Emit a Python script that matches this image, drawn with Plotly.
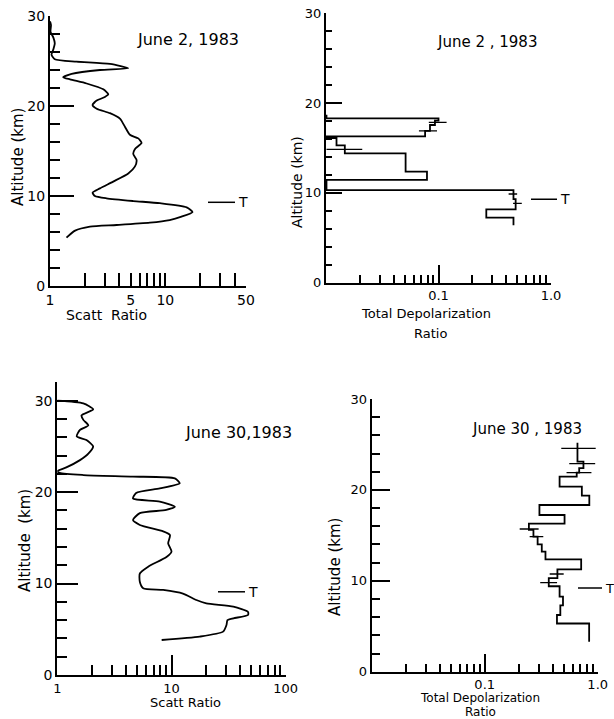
import math
import plotly.graph_objects as go

# ---------------- data ----------------
# Panel 1: June 2, 1983 scattering ratio profile
scatt1_alt = [5.37, 6.15, 6.6, 6.78, 7.04, 7.33, 7.7, 8.2, 8.74, 9.2, 9.44, 9.74, 10.0, 10.37,
              10.85, 11.6, 12.5, 13.26, 14.0, 14.67, 15.2, 15.9, 16.4, 16.8, 17.7, 18.6, 19.2,
              19.7, 20.1, 20.6, 21.0, 21.3, 21.85, 22.5, 22.96, 23.2, 23.56, 24.0, 24.2, 24.67,
              24.93, 25.2, 25.7, 26.3, 26.96, 27.6, 28.26, 29.0, 29.4]
scatt1_val = [1.39, 1.65, 2.22, 3.78, 7.34, 10.9, 13.8, 17.2, 15.3, 8.96, 5.27, 3.09, 2.45, 2.34,
              2.71, 3.53, 4.77, 5.44, 5.63, 5.27, 5.44, 6.22, 5.82, 4.93, 4.46, 4.04, 3.31,
              2.54, 2.34, 2.54, 2.99, 3.2, 2.9, 2.08, 1.49, 1.30, 1.54, 2.71, 4.77, 3.31,
              1.70, 1.10, 1.03, 1.07, 1.10, 1.07, 1.01, 1.02, 1.0]

# Panel 2: June 2, 1983 total depolarization ratio (step profile)
dep1_edges = [6.4, 7.24, 8.17, 9.3, 10.3, 11.44, 12.36, 14.4, 15.3, 16.1, 16.3, 16.9, 17.56,
              18.04, 18.3, 18.7]
dep1_vals = [0.464, 0.266, 0.485, 0.464, 0.0101, 0.079, 0.051, 0.0147, 0.0124, 0.0101, 0.076,
             0.084, 0.093, 0.1, 0.0101]
dep1_err_alt = [17.86, 16.9, 14.85, 9.88, 8.84]
dep1_err_lo = [0.082, 0.067, 0.0101, 0.42, 0.46]
dep1_err_hi = [0.118, 0.097, 0.021, 0.50, 0.55]

# Panel 3: June 30, 1983 scattering ratio profile
scatt2_alt = [3.83, 4.2, 4.74, 5.47, 6.0, 6.2, 6.56, 6.9, 7.47, 7.84, 8.2, 8.9, 9.3, 9.5, 10.2,
              11.1, 11.85, 12.9, 13.5, 14.4, 15.3, 15.7, 16.4, 16.95, 17.7, 18.05, 18.4, 18.96,
              19.3, 19.9, 20.4, 20.96, 21.5, 21.7, 21.87, 22.1, 22.3, 22.7, 23.5, 24.2, 25.0,
              25.7, 26.1, 26.8, 27.3, 27.9, 28.4, 29.05, 29.7, 30.0]
scatt2_val = [8.2, 17.7, 28.3, 30.3, 30.9, 34.8, 46.8, 46.8, 34.8, 20.2, 16.5, 12.6, 8.45, 5.65,
              5.28, 5.28, 6.25, 9.04, 10.0, 9.35, 9.7, 8.45, 5.28, 4.6, 5.28, 9.0, 10.7, 7.9,
              4.6, 4.9, 7.9, 11.8, 10.7, 4.6, 1.69, 1.05, 1.0, 1.2, 1.58, 1.87, 2.06,
              1.80, 1.48, 1.58, 1.87, 1.69, 1.63, 2.06, 1.69, 1.0]

# Panel 4: June 30, 1983 total depolarization ratio (step profile)
dep2_edges = [3.3, 5.3, 6.24, 7.3, 8.25, 9.4, 10.3, 11.26, 12.36, 13.2, 14.0, 14.85, 15.6, 16.3,
              17.24, 18.34, 19.36, 20.35, 21.45, 21.9, 22.4, 23.1, 25.2]
dep2_vals = [0.84, 0.436, 0.467, 0.493, 0.46, 0.369, 0.44, 0.714, 0.345, 0.32, 0.294, 0.27,
             0.246, 0.509, 0.305, 0.843, 0.724, 0.46, 0.652, 0.686, 0.748, 0.662]
dep2_err_alt = [24.57, 22.9, 21.9, 15.7, 14.85, 10.75, 9.8]
dep2_err_lo = [0.476, 0.56, 0.53, 0.204, 0.25, 0.376, 0.31]
dep2_err_hi = [0.96, 0.95, 0.88, 0.30, 0.33, 0.50, 0.437]

# Tropopause heights (km) for the four panels
tropo_alt = [9.3, 9.3, 9.1, 9.2]

# Tick labels
y_tickvals = [0, 10, 20, 30]
x1_tickvals = [1, 2, 3, 4, 5, 6, 7, 8, 9, 10, 20, 30, 40, 50]
x1_ticktext = ['1', '', '', '', '5', '', '', '', '', '10', '', '', '', '50']
x3_major = [1, 10, 100]
x3_major_text = ['1', '10', '100']
x3_minor = [2, 3, 4, 5, 6, 7, 8, 9, 20, 30, 40, 50, 60, 70, 80, 90]
dep_major = [0.1, 1.0]
dep_major_text = ['0.1', '1.0']
dep_minor = [0.02, 0.03, 0.04, 0.05, 0.06, 0.07, 0.08, 0.09, 0.2, 0.3, 0.4, 0.5, 0.6, 0.7, 0.8, 0.9]

titles = ['June 2, 1983', 'June 2 , 1983', 'June 30,1983', 'June 30 , 1983']

# ---------------- helpers ----------------
W, H = 614, 719
FONT = 'DejaVu Sans'


def px(x):
    return x / W


def py(y):
    return 1 - y / H


def steps(edges, vals):
    xs, ys = [], []
    for i, v in enumerate(vals):
        xs += [v, v]
        ys += [edges[i], edges[i + 1]]
    return xs, ys


def bars(alts, lo, hi):
    xs, ys = [], []
    for a, l, h in zip(alts, lo, hi):
        xs += [l, h, None]
        ys += [a, a, None]
    return xs, ys


LINE = dict(color='black', width=1.8)

fig = go.Figure()
fig.add_trace(go.Scatter(x=scatt1_val, y=scatt1_alt, mode='lines',
                         line=dict(color='black', width=1.8, shape='spline', smoothing=0.6),
                         xaxis='x', yaxis='y'))
sx, sy = steps(dep1_edges, dep1_vals)
fig.add_trace(go.Scatter(x=sx, y=sy, mode='lines', line=LINE, xaxis='x2', yaxis='y2'))
bx, by = bars(dep1_err_alt, dep1_err_lo, dep1_err_hi)
fig.add_trace(go.Scatter(x=bx, y=by, mode='lines', line=dict(color='black', width=1.3),
                         xaxis='x2', yaxis='y2'))
fig.add_trace(go.Scatter(x=scatt2_val, y=scatt2_alt, mode='lines',
                         line=dict(color='black', width=1.8, shape='spline', smoothing=0.6),
                         xaxis='x3', yaxis='y3'))
sx, sy = steps(dep2_edges, dep2_vals)
fig.add_trace(go.Scatter(x=sx, y=sy, mode='lines', line=LINE, xaxis='x4', yaxis='y4'))
bx, by = bars(dep2_err_alt, dep2_err_lo, dep2_err_hi)
fig.add_trace(go.Scatter(x=bx, y=by, mode='lines', line=dict(color='black', width=1.3),
                         xaxis='x4', yaxis='y4'))


def xaxis(dom, anchor, rng, tickvals, ticktext, ticklen, minor_vals=None, minor_len=8, fs=13):
    d = dict(domain=dom, anchor=anchor, type='log', range=rng, showline=True, linecolor='black',
             linewidth=2, ticks='inside', tickcolor='black', tickwidth=1.5, ticklen=ticklen,
             tickmode='array', tickvals=tickvals, ticktext=ticktext, showgrid=False,
             zeroline=False, tickfont=dict(family=FONT, size=fs, color='black'),
             fixedrange=True, automargin=False)
    if minor_vals is not None:
        d['minor'] = dict(tickmode='array', tickvals=minor_vals, ticks='inside', ticklen=minor_len,
                          tickcolor='black', tickwidth=1.5, showgrid=False)
    return d


def yaxis(dom, anchor, rng, major_len, minor_len, fs=13):
    return dict(domain=dom, anchor=anchor, range=rng, showline=True, linecolor='black',
                linewidth=2, ticks='inside', tickcolor='black', tickwidth=1.5, ticklen=major_len,
                tickmode='array', tickvals=y_tickvals, ticktext=[str(v) for v in y_tickvals],
                minor=dict(dtick=2, tick0=0, ticks='inside', ticklen=minor_len,
                           tickcolor='black', tickwidth=1.5, showgrid=False),
                showgrid=False, zeroline=False, tickfont=dict(family=FONT, size=fs, color='black'),
                fixedrange=True, automargin=False)


fig.update_layout(
    template='none',
    width=W, height=H, margin=dict(l=0, r=0, t=0, b=0, pad=0, autoexpand=False),
    paper_bgcolor='white', plot_bgcolor='white', showlegend=False,
    font=dict(family=FONT, color='black'),
    xaxis=xaxis([px(50), px(246)], 'y', [0, math.log10(50)], x1_tickvals, x1_ticktext, 13, fs=14),
    yaxis=yaxis([py(286), py(16)], 'x', [0, 30], 24, 10, fs=14),
    xaxis2=xaxis([px(326), px(551)], 'y2', [-2, 0], dep_major, dep_major_text, 18, dep_minor, 8),
    yaxis2=yaxis([py(282.7), py(13.3)], 'x2', [0, 30], 16, 6),
    xaxis3=xaxis([px(57.3), px(285.7)], 'y3', [0, 2], x3_major, x3_major_text, 20, x3_minor, 10),
    yaxis3=yaxis([py(675), py(382.4)], 'x3', [0, 32], 21, 10, fs=14),
    xaxis4=xaxis([px(371.7), px(597.7)], 'y4', [-2, 0], dep_major, dep_major_text, 18, dep_minor, 8),
    yaxis4=yaxis([py(671.7), py(399)], 'x4', [0, 30], 18, 8),
)

ann = []


def text(x, y, s, size, angle=0, xanchor='center'):
    ann.append(dict(x=px(x), y=py(y), xref='paper', yref='paper', text=s, showarrow=False,
                    font=dict(family=FONT, size=size, color='black'), textangle=angle,
                    xanchor=xanchor, yanchor='middle'))


# titles
text(188, 40, titles[0], 16)
text(487, 42, titles[1], 15)
text(238, 432, titles[2], 16)
text(527, 429, titles[3], 15)
# axis titles
text(18, 157, 'Altitude (km)', 15, -90)
text(297, 182, 'Altitude (km)', 14, -90)
text(25, 541, 'Altitude  (km)', 15, -90)
text(335, 567, 'Altitude (km)', 15, -90)
text(106, 315, 'Scatt  Ratio', 14)
text(185, 702, 'Scatt Ratio', 13)
text(426, 313, 'Total Depolarization', 13)
text(430, 333, 'Ratio', 13)
text(480, 698, 'Total Depolarization', 12)
text(480, 712, 'Ratio', 12)

# tropopause markers
t_px = [(208, 235), (531, 557), (218, 245), (578, 602)]
t_size = [14, 14, 14, 13]
yrefs = ['y', 'y2', 'y3', 'y4']
shapes = []
for (x0, x1), yr, alt, fs in zip(t_px, yrefs, tropo_alt, t_size):
    shapes.append(dict(type='line', xref='paper', yref=yr, x0=px(x0), x1=px(x1), y0=alt, y1=alt,
                       line=dict(color='black', width=1.5)))
    ann.append(dict(x=px(x1 + 1), y=alt, xref='paper', yref=yr, text='T', showarrow=False,
                    xanchor='left', yanchor='middle',
                    font=dict(family=FONT, size=fs, color='black')))

fig.update_layout(annotations=ann, shapes=shapes)
fig.write_html('out.html', config={'displayModeBar': False},
               post_script="document.body.style.margin='0';document.body.style.overflow='hidden';")
